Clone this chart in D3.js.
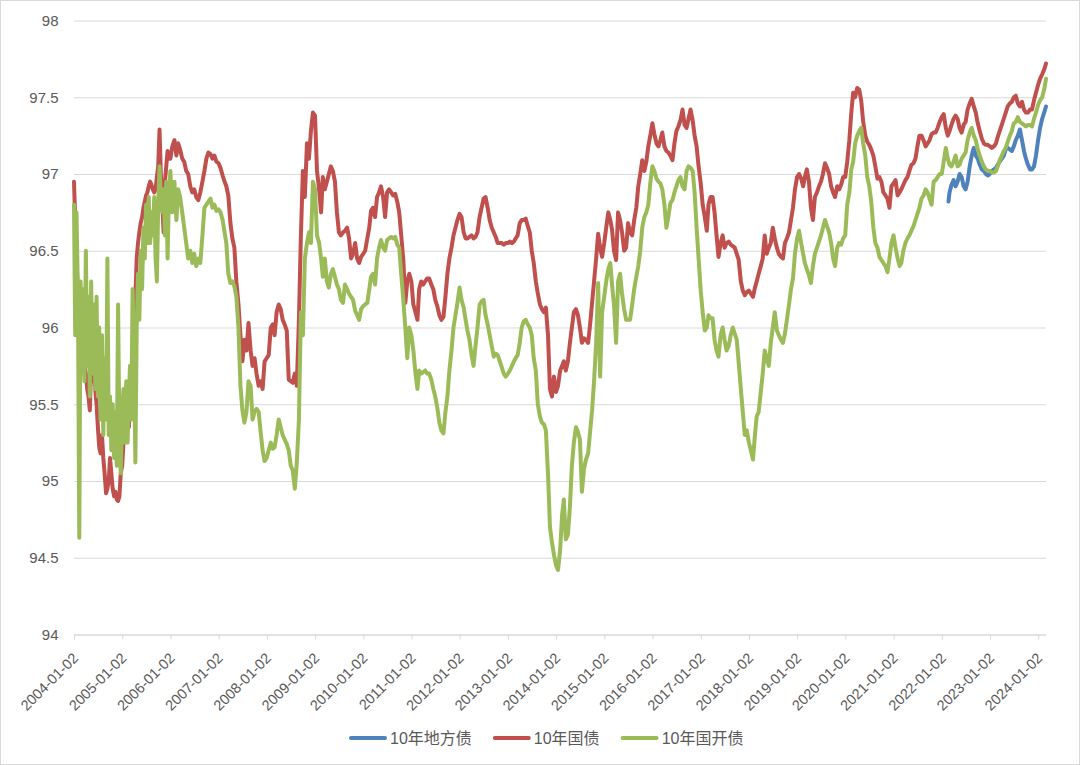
<!DOCTYPE html>
<html><head><meta charset="utf-8">
<script src="https://cdn.jsdelivr.net/npm/d3@7"></script>
<style>html,body{margin:0;padding:0;background:#fff;}svg{display:block;}</style>
</head><body>
<script>
// ---- categories (dates) ----
const dates = [
"2004-01-02","2004-01-11","2004-01-21","2004-02-01","2004-02-11","2004-02-21","2004-03-01","2004-03-11","2004-03-21","2004-04-01","2004-04-11","2004-04-21","2004-05-01","2004-05-11","2004-05-21","2004-06-01","2004-06-11","2004-06-21","2004-07-01","2004-07-11","2004-07-21","2004-08-01","2004-08-11","2004-08-21","2004-09-01","2004-09-11","2004-09-21","2004-10-01","2004-10-11","2004-10-21","2004-11-01","2004-11-11","2004-11-21","2004-12-01","2004-12-11","2004-12-21",
"2005-01-01","2005-01-11","2005-01-21","2005-02-01","2005-02-11","2005-02-21","2005-03-01","2005-03-11","2005-03-21","2005-04-01","2005-04-11","2005-04-21","2005-05-01","2005-05-11","2005-05-21","2005-06-01","2005-06-11","2005-06-21","2005-07-01","2005-07-11","2005-07-21","2005-08-01","2005-08-11","2005-08-21","2005-09-01","2005-09-11","2005-09-21","2005-10-01","2005-10-11","2005-10-21","2005-11-01","2005-11-11","2005-11-21","2005-12-01","2005-12-11","2005-12-21",
"2006-01-01","2006-01-16","2006-02-01","2006-02-16","2006-03-01","2006-03-16","2006-04-01","2006-04-16","2006-05-01","2006-05-16","2006-06-01","2006-06-16","2006-07-01","2006-07-16","2006-08-01","2006-08-16","2006-09-01","2006-09-16","2006-10-01","2006-10-16","2006-11-01","2006-11-16","2006-12-01","2006-12-16",
"2007-01-01","2007-01-16","2007-02-01","2007-02-16","2007-03-01","2007-03-16","2007-04-01","2007-04-16","2007-05-01","2007-05-16","2007-06-01","2007-06-16","2007-07-01","2007-07-16","2007-08-01","2007-08-16","2007-09-01","2007-09-16","2007-10-01","2007-10-16","2007-11-01","2007-11-16","2007-12-01","2007-12-16",
"2008-01-01","2008-01-16","2008-02-01","2008-02-16","2008-03-01","2008-03-16","2008-04-01","2008-04-16","2008-05-01","2008-05-16","2008-06-01","2008-06-16","2008-07-01","2008-07-16","2008-08-01","2008-08-16","2008-09-01","2008-09-16","2008-10-01","2008-10-16","2008-11-01","2008-11-16","2008-12-01","2008-12-16",
"2009-01-01","2009-01-16","2009-02-01","2009-02-16","2009-03-01","2009-03-16","2009-04-01","2009-04-16","2009-05-01","2009-05-16","2009-06-01","2009-06-16","2009-07-01","2009-07-16","2009-08-01","2009-08-16","2009-09-01","2009-09-16","2009-10-01","2009-10-16","2009-11-01","2009-11-16","2009-12-01","2009-12-16",
"2010-01-01","2010-01-16","2010-02-01","2010-02-16","2010-03-01","2010-03-16","2010-04-01","2010-04-16","2010-05-01","2010-05-16","2010-06-01","2010-06-16","2010-07-01","2010-07-16","2010-08-01","2010-08-16","2010-09-01","2010-09-16","2010-10-01","2010-10-16","2010-11-01","2010-11-16","2010-12-01","2010-12-16",
"2011-01-01","2011-01-16","2011-02-01","2011-02-16","2011-03-01","2011-03-16","2011-04-01","2011-04-16","2011-05-01","2011-05-16","2011-06-01","2011-06-16","2011-07-01","2011-07-16","2011-08-01","2011-08-16","2011-09-01","2011-09-16","2011-10-01","2011-10-16","2011-11-01","2011-11-16","2011-12-01","2011-12-16",
"2012-01-01","2012-01-16","2012-02-01","2012-02-16","2012-03-01","2012-03-16","2012-04-01","2012-04-16","2012-05-01","2012-05-16","2012-06-01","2012-06-16","2012-07-01","2012-07-16","2012-08-01","2012-08-16","2012-09-01","2012-09-16","2012-10-01","2012-10-16","2012-11-01","2012-11-16","2012-12-01","2012-12-16",
"2013-01-01","2013-01-16","2013-02-01","2013-02-16","2013-03-01","2013-03-16","2013-04-01","2013-04-16","2013-05-01","2013-05-16","2013-06-01","2013-06-16","2013-07-01","2013-07-16","2013-08-01","2013-08-16","2013-09-01","2013-09-16","2013-10-01","2013-10-16","2013-11-01","2013-11-16","2013-12-01","2013-12-16",
"2014-01-01","2014-01-16","2014-02-01","2014-02-16","2014-03-01","2014-03-16","2014-04-01","2014-04-16","2014-05-01","2014-05-16","2014-06-01","2014-06-16","2014-07-01","2014-07-16","2014-08-01","2014-08-16","2014-09-01","2014-09-16","2014-10-01","2014-10-16","2014-11-01","2014-11-16","2014-12-01","2014-12-16",
"2015-01-01","2015-01-16","2015-02-01","2015-02-16","2015-03-01","2015-03-16","2015-04-01","2015-04-16","2015-05-01","2015-05-16","2015-06-01","2015-06-16","2015-07-01","2015-07-16","2015-08-01","2015-08-16","2015-09-01","2015-09-16","2015-10-01","2015-10-16","2015-11-01","2015-11-16","2015-12-01","2015-12-16",
"2016-01-01","2016-01-16","2016-02-01","2016-02-16","2016-03-01","2016-03-16","2016-04-01","2016-04-16","2016-05-01","2016-05-16","2016-06-01","2016-06-16","2016-07-01","2016-07-16","2016-08-01","2016-08-16","2016-09-01","2016-09-16","2016-10-01","2016-10-16","2016-11-01","2016-11-16","2016-12-01","2016-12-16",
"2017-01-01","2017-01-16","2017-02-01","2017-02-16","2017-03-01","2017-03-16","2017-04-01","2017-04-16","2017-05-01","2017-05-16","2017-06-01","2017-06-16","2017-07-01","2017-07-16","2017-08-01","2017-08-16","2017-09-01","2017-09-16","2017-10-01","2017-10-16","2017-11-01","2017-11-16","2017-12-01","2017-12-16",
"2018-01-01","2018-01-16","2018-02-01","2018-02-16","2018-03-01","2018-03-16","2018-04-01","2018-04-16","2018-05-01","2018-05-16","2018-06-01","2018-06-16","2018-07-01","2018-07-16","2018-08-01","2018-08-16","2018-09-01","2018-09-16","2018-10-01","2018-10-16","2018-11-01","2018-11-16","2018-12-01","2018-12-16",
"2019-01-01","2019-01-16","2019-02-01","2019-02-16","2019-03-01","2019-03-16","2019-04-01","2019-04-16","2019-05-01","2019-05-16","2019-06-01","2019-06-16","2019-07-01","2019-07-16","2019-08-01","2019-08-16","2019-09-01","2019-09-16","2019-10-01","2019-10-16","2019-11-01","2019-11-16","2019-12-01","2019-12-16",
"2020-01-01","2020-01-16","2020-02-01","2020-02-16","2020-03-01","2020-03-16","2020-04-01","2020-04-16","2020-05-01","2020-05-16","2020-06-01","2020-06-16","2020-07-01","2020-07-16","2020-08-01","2020-08-16","2020-09-01","2020-09-16","2020-10-01","2020-10-16","2020-11-01","2020-11-16","2020-12-01","2020-12-16",
"2021-01-01","2021-01-16","2021-02-01","2021-02-16","2021-03-01","2021-03-16","2021-04-01","2021-04-16","2021-05-01","2021-05-16","2021-06-01","2021-06-16","2021-07-01","2021-07-16","2021-08-01","2021-08-16","2021-09-01","2021-09-16","2021-10-01","2021-10-16","2021-11-01","2021-11-16","2021-12-01","2021-12-16",
"2022-01-01","2022-01-16","2022-02-01","2022-02-16","2022-03-01","2022-03-16","2022-04-01","2022-04-16","2022-05-01","2022-05-16","2022-06-01","2022-06-16","2022-07-01","2022-07-16","2022-08-01","2022-08-16","2022-09-01","2022-09-16","2022-10-01","2022-10-16","2022-11-01","2022-11-16","2022-12-01","2022-12-16",
"2023-01-01","2023-01-16","2023-02-01","2023-02-16","2023-03-01","2023-03-16","2023-04-01","2023-04-16","2023-05-01","2023-05-16","2023-06-01","2023-06-16","2023-07-01","2023-07-16","2023-08-01","2023-08-16","2023-09-01","2023-09-16","2023-10-01","2023-10-16","2023-11-01","2023-11-16","2023-12-01","2023-12-16",
"2024-01-01","2024-01-16","2024-02-01","2024-02-16","2024-03-01"
];

// ---- 10年国债 (red) ----
const cgb = [
96.95,96.70,96.45,96.20,96.05,95.95,95.85,95.80,95.75,95.70,95.60,95.55,95.46,95.75,95.65,95.72,95.60,95.50,95.35,95.22,95.18,95.30,95.15,95.05,94.92,94.95,95.00,95.15,95.05,94.95,94.90,94.93,94.88,94.87,94.90,95.05,
95.10,95.25,95.35,95.45,95.40,95.35,95.50,95.55,95.70,96.00,96.20,96.45,96.55,96.62,96.68,96.72,96.78,96.82,96.86,96.88,96.92,96.95,96.93,96.90,96.88,96.90,96.98,97.05,97.29,97.00,96.80,96.62,96.95,97.05,97.15,97.10,
97.10,97.18,97.22,97.12,97.20,97.16,97.10,97.08,97.02,97.00,96.92,96.88,96.90,96.85,96.83,96.88,96.95,97.02,97.10,97.14,97.13,97.10,97.12,97.08,
97.07,97.04,96.99,96.95,96.92,96.86,96.68,96.58,96.52,96.30,96.15,95.95,95.78,95.92,95.85,96.03,95.85,95.75,95.80,95.70,95.62,95.65,95.60,95.78,
95.80,95.82,96.00,96.02,95.95,96.10,96.15,96.12,96.05,96.02,95.98,95.66,95.65,95.64,95.70,95.62,96.05,96.60,97.02,96.85,97.20,97.10,97.28,97.40,
97.38,97.02,96.90,96.75,96.98,96.90,96.95,97.00,97.05,97.02,96.95,96.75,96.62,96.60,96.62,96.63,96.65,96.58,96.45,96.48,96.55,96.45,96.42,96.46,
96.48,96.50,96.58,96.65,96.76,96.78,96.72,96.85,96.88,96.92,96.85,96.72,96.88,96.90,96.88,96.86,96.87,96.82,96.75,96.60,96.44,96.16,96.30,96.35,
96.30,96.15,96.10,96.05,96.25,96.30,96.28,96.30,96.32,96.32,96.28,96.25,96.18,96.14,96.08,96.05,96.07,96.20,96.35,96.45,96.52,96.60,96.65,96.70,
96.74,96.72,96.62,96.58,96.58,96.59,96.60,96.58,96.59,96.62,96.72,96.78,96.84,96.85,96.78,96.70,96.65,96.62,96.59,96.55,96.55,96.55,96.54,96.55,
96.55,96.56,96.55,96.56,96.58,96.60,96.68,96.70,96.70,96.71,96.66,96.62,96.50,96.42,96.30,96.22,96.15,96.12,96.10,96.13,95.95,95.60,95.55,95.68,
95.58,95.62,95.72,95.75,95.78,95.72,95.78,95.90,96.00,96.10,96.12,96.08,96.00,95.90,95.93,95.92,95.90,96.02,96.16,96.30,96.45,96.61,96.52,96.46,
96.55,96.65,96.75,96.70,96.64,96.50,96.44,96.75,96.70,96.62,96.50,96.52,96.68,96.62,96.60,96.70,96.78,96.92,97.00,97.09,97.02,97.08,97.18,97.25,
97.33,97.26,97.20,97.18,97.22,97.27,97.18,97.15,97.14,97.12,97.09,97.20,97.28,97.31,97.35,97.42,97.32,97.30,97.36,97.42,97.35,97.25,97.18,97.05,
96.94,96.80,96.72,96.63,96.80,96.85,96.85,96.75,96.60,96.46,96.55,96.60,96.52,96.55,96.56,96.54,96.53,96.52,96.48,96.44,96.30,96.24,96.21,96.23,
96.24,96.22,96.20,96.26,96.30,96.35,96.40,96.45,96.60,96.48,96.52,96.55,96.65,96.58,96.52,96.48,96.46,96.45,96.55,96.58,96.62,96.70,96.78,96.90,
96.98,97.00,96.97,96.92,96.98,97.03,96.95,96.78,96.70,96.85,96.88,96.92,96.95,97.00,97.07,97.04,97.00,96.92,96.88,96.85,96.92,96.90,96.93,96.98,
96.98,97.08,97.22,97.40,97.53,97.50,97.56,97.55,97.48,97.34,97.25,97.21,97.19,97.16,97.12,97.05,96.97,96.98,96.95,96.88,96.86,96.84,96.78,96.92,
96.94,96.96,96.86,96.88,96.90,96.93,96.96,96.98,97.02,97.06,97.07,97.10,97.18,97.25,97.25,97.22,97.18,97.20,97.22,97.26,97.27,97.27,97.30,97.34,
97.37,97.39,97.30,97.25,97.28,97.32,97.36,97.38,97.36,97.30,97.27,97.32,97.34,97.42,97.46,97.49,97.44,97.40,97.33,97.28,97.23,97.20,97.19,97.19,
97.18,97.17,97.18,97.20,97.24,97.28,97.32,97.36,97.40,97.44,97.46,97.47,97.50,97.51,97.46,97.44,97.47,97.42,97.40,97.40,97.42,97.42,97.48,97.53,
97.58,97.62,97.65,97.68,97.72
];

// ---- 10年国开债 (green) ----
const cdb = [
96.80,95.95,96.75,96.20,94.63,96.30,95.70,96.25,95.65,96.50,95.75,96.20,95.55,96.30,95.70,96.15,95.60,96.20,95.55,96.00,95.40,95.95,95.30,95.80,95.40,96.45,95.30,95.55,95.20,95.50,95.15,95.45,95.10,96.15,95.30,95.05,
95.45,95.60,95.25,95.65,95.25,95.55,95.75,95.40,96.25,95.75,95.12,96.00,96.35,96.05,96.50,96.25,96.65,96.45,96.80,96.55,96.85,96.55,96.75,96.60,96.85,96.45,96.30,96.80,97.05,96.85,96.75,96.90,96.60,96.95,96.45,96.85,
97.02,96.75,96.95,96.70,96.90,96.85,96.75,96.65,96.55,96.45,96.50,96.42,96.48,96.40,96.45,96.42,96.60,96.78,96.80,96.82,96.84,96.78,96.80,96.76,
96.77,96.75,96.70,96.62,96.55,96.35,96.29,96.30,96.27,96.20,96.00,95.62,95.46,95.38,95.45,95.65,95.62,95.40,95.45,95.47,95.45,95.32,95.20,95.13,
95.15,95.20,95.25,95.21,95.22,95.30,95.40,95.35,95.30,95.27,95.24,95.20,95.10,95.07,94.95,95.12,95.40,96.10,95.95,96.45,96.55,96.62,96.55,96.95,
96.90,96.60,96.55,96.45,96.33,96.45,96.30,96.26,96.35,96.38,96.33,96.28,96.25,96.18,96.16,96.28,96.25,96.22,96.20,96.18,96.11,96.08,96.05,96.12,
96.14,96.15,96.16,96.25,96.33,96.35,96.28,96.45,96.52,96.57,96.52,96.50,96.57,96.58,96.59,96.58,96.59,96.54,96.52,96.35,96.18,96.00,95.80,96.00,
95.95,95.85,95.70,95.60,95.72,95.70,95.71,95.72,95.70,95.70,95.66,95.60,95.55,95.48,95.38,95.33,95.31,95.45,95.55,95.72,95.85,96.00,96.08,96.16,
96.26,96.18,96.13,96.05,95.98,95.92,95.82,95.75,95.88,96.00,96.15,96.17,96.18,96.08,96.02,95.95,95.88,95.81,95.83,95.82,95.78,95.74,95.70,95.68,
95.70,95.72,95.75,95.78,95.80,95.82,95.90,96.00,96.04,96.05,96.02,96.00,95.95,95.80,95.72,95.50,95.42,95.38,95.37,95.33,95.05,94.70,94.60,94.52,
94.45,94.42,94.55,94.78,94.88,94.62,94.65,94.83,95.10,95.25,95.35,95.32,95.27,94.93,95.08,95.14,95.18,95.32,95.46,95.65,95.90,96.29,95.68,96.10,
96.20,96.30,96.38,96.42,96.28,96.15,95.90,96.30,96.35,96.22,96.12,96.05,96.05,96.05,96.15,96.25,96.33,96.40,96.50,96.65,96.72,96.75,96.80,96.94,
97.05,97.02,96.97,96.95,96.94,96.90,96.80,96.65,96.72,96.81,96.83,96.88,96.92,96.96,96.98,96.92,96.90,97.02,97.05,97.04,97.02,96.88,96.65,96.45,
96.24,96.10,95.98,96.00,96.08,96.06,96.06,95.92,95.85,95.81,95.95,96.00,95.92,95.85,95.88,95.95,96.00,95.96,95.92,95.77,95.60,95.45,95.30,95.33,
95.25,95.20,95.14,95.30,95.42,95.45,95.58,95.70,95.85,95.80,95.75,95.90,96.00,96.10,95.98,95.95,95.92,95.90,95.96,96.05,96.15,96.25,96.32,96.48,
96.58,96.63,96.55,96.48,96.42,96.38,96.34,96.29,96.40,96.48,96.52,96.56,96.60,96.65,96.70,96.66,96.62,96.55,96.45,96.40,96.52,96.55,96.54,96.58,
96.60,96.80,96.88,97.03,97.08,97.20,97.25,97.28,97.30,97.20,97.12,96.98,96.92,96.82,96.65,96.55,96.52,96.46,96.44,96.42,96.40,96.36,96.45,96.55,
96.60,96.52,96.45,96.40,96.42,96.50,96.55,96.58,96.60,96.63,96.66,96.70,96.74,96.78,96.84,96.86,96.90,96.88,96.84,96.80,96.95,96.96,96.98,97.00,
97.00,97.08,97.17,97.10,97.06,97.05,97.08,97.12,97.05,97.06,97.10,97.12,97.14,97.22,97.27,97.30,97.25,97.22,97.16,97.12,97.08,97.05,97.03,97.02,
97.02,97.01,97.01,97.02,97.05,97.09,97.12,97.15,97.17,97.21,97.25,97.28,97.33,97.34,97.37,97.34,97.33,97.32,97.31,97.32,97.32,97.31,97.36,97.40,
97.45,97.48,97.50,97.55,97.62
];

// ---- 10年地方债 (blue) ----
const lgbDates = [
"2022-02-21","2022-03-01","2022-03-16","2022-04-01","2022-04-16","2022-05-01","2022-05-16","2022-06-01","2022-06-16","2022-07-01","2022-07-16","2022-08-01","2022-08-16","2022-09-01","2022-09-16","2022-10-01","2022-10-16","2022-11-01","2022-11-16","2022-12-01","2022-12-16",
"2023-01-01","2023-01-16","2023-02-01","2023-02-16","2023-03-01","2023-03-16","2023-04-01","2023-04-16","2023-05-01","2023-05-16","2023-06-01","2023-06-16","2023-07-01","2023-07-16","2023-08-01","2023-08-16","2023-09-01","2023-09-16","2023-10-01","2023-10-16","2023-11-01","2023-11-16","2023-12-01","2023-12-16",
"2024-01-01","2024-01-16","2024-02-01","2024-02-16","2024-03-01"
];
const lgb = [
96.82,96.88,96.93,96.96,96.92,96.95,97.00,96.98,96.92,96.90,96.95,97.05,97.12,97.17,97.12,97.10,97.06,97.03,97.02,97.00,96.99,
97.00,97.02,97.03,97.04,97.06,97.08,97.10,97.12,97.16,97.17,97.16,97.15,97.18,97.22,97.25,97.29,97.22,97.15,97.10,97.06,97.03,97.03,97.05,97.12,
97.22,97.30,97.36,97.40,97.44
];

const yTicks = [94, 94.5, 95, 95.5, 96, 96.5, 97, 97.5, 98];
const xTickLabels = ["2004-01-02","2005-01-02","2006-01-02","2007-01-02","2008-01-02","2009-01-02","2010-01-02","2011-01-02","2012-01-02","2013-01-02","2014-01-02","2015-01-02","2016-01-02","2017-01-02","2018-01-02","2019-01-02","2020-01-02","2021-01-02","2022-01-02","2023-01-02","2024-01-02"];
const seriesNames = ["10年地方债", "10年国债", "10年国开债"];
const seriesColors = ["#4F81BD", "#C0504D", "#9BBB59"];

// ---- drawing ----
const W = 1080, H = 765;
const font = "'Liberation Sans', 'Noto Sans CJK SC', Arial, sans-serif";
const parse = d3.timeParse("%Y-%m-%d");
const svg = d3.select("body").append("svg").attr("width", W).attr("height", H);
svg.append("rect").attr("x", 0.5).attr("y", 0.5).attr("width", W - 1).attr("height", H - 1)
  .attr("fill", "#fff").attr("stroke", "#D9D9D9");

const x = d3.scaleTime().domain([parse(dates[0]), parse(dates[dates.length - 1])]).range([74, 1046]);
const y = d3.scaleLinear().domain([94, 98]).range([634.5, 20.5]);

const gy = svg.append("g").attr("transform", "translate(74,0)")
  .call(d3.axisLeft(y).tickValues(yTicks).tickSize(-972).tickPadding(15.5).tickFormat(d => String(d)));
gy.select(".domain").remove();
gy.selectAll(".tick line").attr("stroke", "#D9D9D9");
gy.selectAll(".tick text").attr("fill", "#595959").style("font-family", font).style("font-size", "15px");

const gx = svg.append("g").attr("transform", `translate(0,${y(94)})`)
  .call(d3.axisBottom(x).tickValues(xTickLabels.map(parse)).tickSize(5).tickSizeOuter(0)
    .tickFormat((d, i) => xTickLabels[i]));
gx.select(".domain").attr("stroke", "#D9D9D9");
gx.selectAll(".tick line").attr("stroke", "#D9D9D9");
gx.selectAll(".tick text").attr("fill", "#595959").style("font-family", font).style("font-size", "14.5px")
  .attr("text-anchor", "end").attr("x", 0).attr("y", 0).attr("dy", "0.35em")
  .attr("transform", "translate(1,21) rotate(-45)");

const toPts = (ds, vs) => ds.map((d, i) => ({ date: parse(d), v: vs[i] }));
const line = d3.line().x(d => x(d.date)).y(d => y(d.v));
const series = [toPts(lgbDates, lgb), toPts(dates, cgb), toPts(dates, cdb)];
svg.append("g").selectAll("path").data(series).join("path")
  .attr("d", line).attr("fill", "none")
  .attr("stroke", (d, i) => seriesColors[i]).attr("stroke-width", 4)
  .attr("stroke-linejoin", "round").attr("stroke-linecap", "round");

const lg = svg.append("g");
let cx = 349;
seriesNames.forEach((name, i) => {
  lg.append("line").attr("x1", cx + 2).attr("x2", cx + 36).attr("y1", 738).attr("y2", 738)
    .attr("stroke", seriesColors[i]).attr("stroke-width", 4).attr("stroke-linecap", "round");
  const t = lg.append("text").attr("x", cx + 41).attr("y", 738).attr("dy", "0.35em")
    .attr("fill", "#595959").style("font-family", font).style("font-size", "16px").text(name);
  cx += 41 + t.node().getComputedTextLength() + 21;
});
</script>
</body></html>
